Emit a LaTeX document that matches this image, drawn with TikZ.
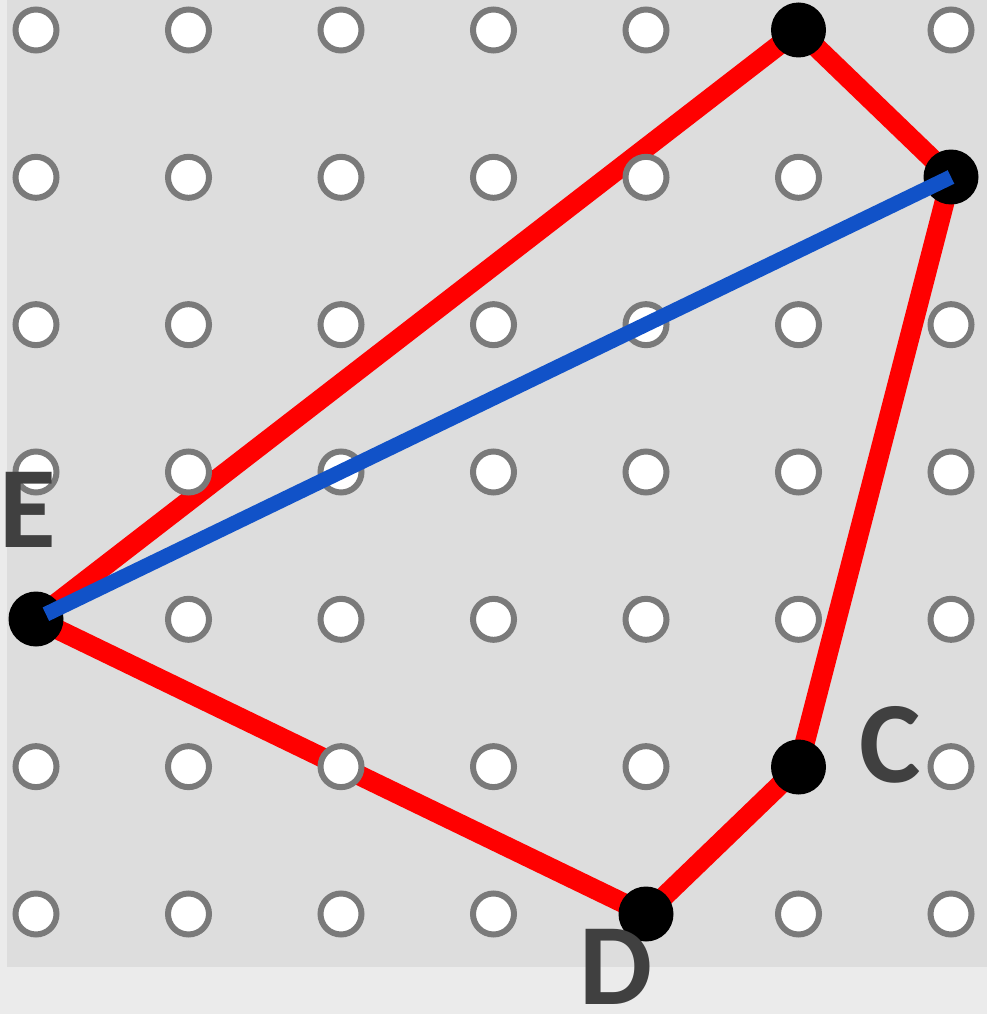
\documentclass[tikz,border=0pt]{standalone}
\usepackage{fontspec}
\setmainfont{Carlito}
\definecolor{bgouter}{HTML}{EBEBEB}
\definecolor{bggrid}{HTML}{DDDDDD}
\definecolor{ringgrey}{HTML}{7A7A7A}
\definecolor{polyred}{HTML}{FF0000}
\definecolor{diagblue}{HTML}{1152C8}
\definecolor{labelgrey}{HTML}{404040}
\begin{document}
\begin{tikzpicture}[x=1pt,y=-1pt,
  griddot/.style={circle,draw=ringgrey,fill=white,line width=6pt,minimum size=41pt,inner sep=0pt},
  blackdot/.style={circle,fill=black,minimum size=55pt,inner sep=0pt},
  redside/.style={draw=polyred,line width=20pt,line join=round},
  blueline/.style={draw=diagblue,line width=15pt},
  lbl/.style={font=\bfseries\fontsize{116}{116}\selectfont,text=labelgrey,inner sep=0pt}]
\useasboundingbox (0,0) rectangle (987,1014);
\fill[bgouter] (0,0) rectangle (987,1014);
\fill[bggrid] (7,0) rectangle (987,967);
% vertices
\coordinate (A) at (798.5,30);
\coordinate (B) at (951,177);
\coordinate (C) at (798.5,767);
\coordinate (D) at (646,914);
\coordinate (E) at (36,619);
% red polygon
\draw[redside] (A) -- (B) -- (C) -- (D) -- (E) -- cycle;
% grid of pegs
\foreach \i in {0,...,6} {
  \foreach \j in {0,...,6} {
    \node[griddot] (w-\i-\j) at ({36+152.5*\i},{30+147.33*\j}) {};
  }
}
% black vertices
\node[blackdot] (Adot) at (A) {};
\node[blackdot] (Bdot) at (B) {};
\node[blackdot] (Cdot) at (C) {};
\node[blackdot] (Ddot) at (D) {};
\node[blackdot] (Edot) at (E) {};
% blue diagonal
\draw[blueline,shorten <=11pt] (Edot.center) -- (Bdot.center);
% labels
\node[lbl] (labE) at (28,510) {E};
\node[lbl] (labC) at (890,745) {C};
\node[lbl] (labD) at (616,967) {D};
\end{tikzpicture}
\end{document}
